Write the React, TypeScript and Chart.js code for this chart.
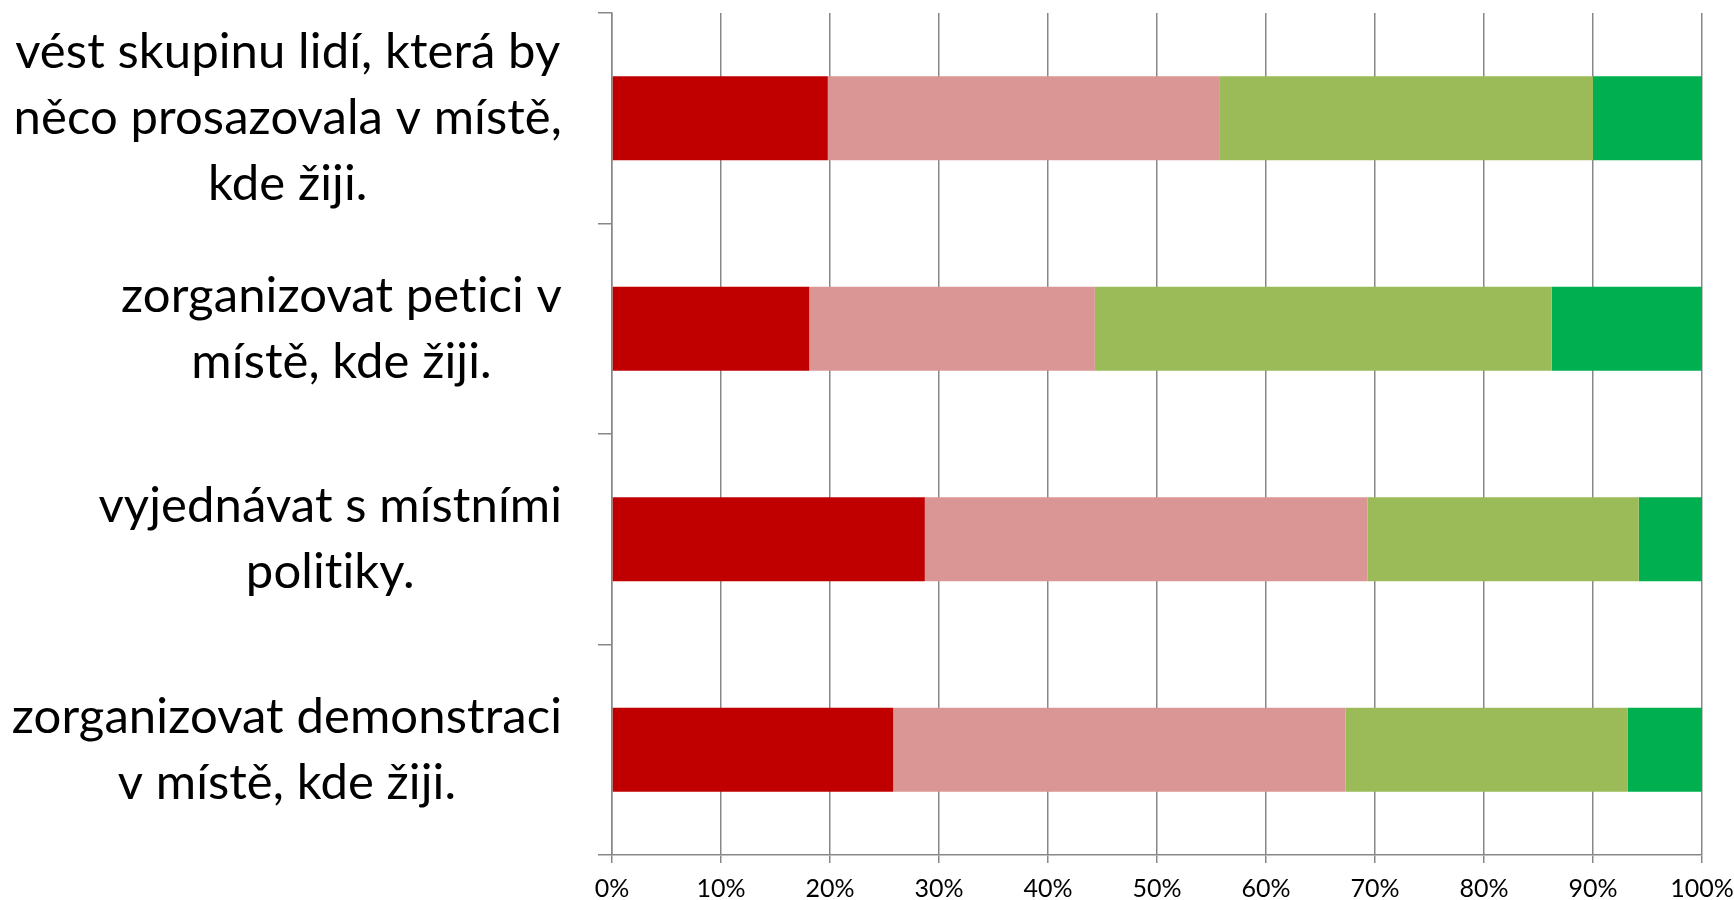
import { useEffect, useRef } from 'react';
import { Chart, registerables } from 'chart.js';

Chart.register(...registerables);

// Category labels (each an array of lines, as in the reference)
const categories: string[][] = [
  ['vést skupinu lidí, která by', 'něco prosazovala v místě,', 'kde žiji.'],
  ['zorganizovat petici v', 'místě, kde žiji.'],
  ['vyjednávat s místními', 'politiky.'],
  ['zorganizovat demonstraci', 'v místě, kde žiji.'],
];

// Series values (percent of each row)
const seriesNames = ['rozhodně ne', 'spíše ne', 'spíše ano', 'rozhodně ano'];
const series1 = [19.8, 18.1, 28.7, 25.8];
const series2 = [35.9, 26.2, 40.6, 41.5];
const series3 = [34.3, 41.9, 24.9, 25.9];
const series4 = [10.0, 13.8, 5.8, 6.8];
const seriesColors = ['#C00000', '#D99694', '#9BBB59', '#00B050'];

const xTickMin = 0;
const xTickMax = 100;
const xTickStep = 10;

const FONT = 'Lato, "Open Sans", sans-serif';
const LABEL_SIZE = 49;
const LABEL_LINE_H = 66;
const LABEL_GAP = 50;
const GRID = '#878787';

export default function App() {
  const ref = useRef<HTMLCanvasElement>(null);

  useEffect(() => {
    if (!ref.current) return;

    const labelPlugin = {
      id: 'catLabels',
      afterDraw(chart: any) {
        const ctx = chart.ctx as CanvasRenderingContext2D;
        const ys = chart.scales.y;
        const right = chart.chartArea.left - LABEL_GAP;
        ctx.save();
        ctx.font = `${LABEL_SIZE}px ${FONT}`;
        try {
          (ctx as any).letterSpacing = '0.1px';
        } catch (e) {
          /* ignore */
        }
        ctx.fillStyle = '#000000';
        ctx.textAlign = 'center';
        ctx.textBaseline = 'middle';
        categories.forEach((lines, i) => {
          const cy = ys.getPixelForTick(i);
          const w = Math.max(...lines.map((l) => ctx.measureText(l).width));
          const cx = right - w / 2;
          lines.forEach((l, j) => {
            ctx.fillText(l, cx, cy + (j - (lines.length - 1) / 2) * LABEL_LINE_H);
          });
        });
        ctx.restore();
      },
    };

    const values = [series1, series2, series3, series4];
    const chart = new Chart(ref.current, {
      type: 'bar',
      data: {
        labels: categories.map((c) => c.join(' ')),
        datasets: values.map((v, i) => ({
          label: seriesNames[i],
          data: v,
          backgroundColor: seriesColors[i],
          borderWidth: 0,
          barPercentage: 0.4,
          categoryPercentage: 1,
        })),
      },
      options: {
        indexAxis: 'y',
        animation: false,
        responsive: false,
        maintainAspectRatio: false,
        layout: { padding: { left: 0, right: 32, top: 13, bottom: 0 } },
        plugins: {
          legend: { display: false },
          tooltip: { enabled: false },
        },
        scales: {
          x: {
            stacked: true,
            min: xTickMin,
            max: xTickMax,
            ticks: {
              stepSize: xTickStep,
              callback: (v: any) => `${v}%`,
              color: '#000000',
              font: { family: FONT, size: 25 },
              padding: 11,
              maxRotation: 0,
            },
            grid: {
              color: GRID,
              lineWidth: 1.5,
              drawTicks: true,
              tickLength: 8,
            },
            border: { color: GRID, width: 1.5 },
            afterFit: (s: any) => {
              s.height = 45;
              s.paddingRight = 0;
              s.paddingLeft = 0;
            },
          },
          y: {
            stacked: true,
            ticks: { display: false },
            grid: {
              offset: true,
              drawOnChartArea: false,
              drawTicks: true,
              tickLength: 14,
              color: GRID,
              lineWidth: 1.5,
            },
            border: { color: GRID, width: 1.5 },
            afterFit: (s: any) => {
              s.width = 612;
            },
          },
        },
      },
      plugins: [labelPlugin],
    });

    return () => chart.destroy();
  }, []);

  return (
    <div style={{ position: 'fixed', left: 0, top: 0, width: 1734, height: 900, background: '#ffffff' }}>
      <canvas ref={ref} width={1734} height={900} style={{ width: 1734, height: 900, display: 'block' }} />
    </div>
  );
}
